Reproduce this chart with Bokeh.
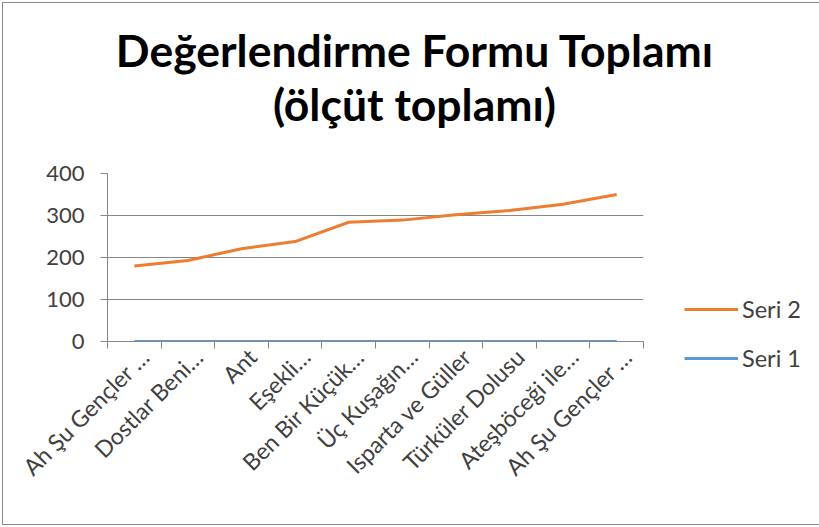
import math
from bokeh.plotting import figure
from bokeh.models import (Range1d, FixedTicker, Legend, LegendItem, Div)
from bokeh.layouts import column
from bokeh.embed import file_html
from bokeh.resources import INLINE

categories = ["Ah Şu Gençler …", "Dostlar Beni…", "Ant", "Eşekli…", "Ben Bir Küçük…",
              "Üç Kuşağın…", "Isparta ve Güller", "Türküler Dolusu", "Ateşböceği ile…",
              "Ah Şu Gençler …"]
seri2 = [180, 193, 221, 238, 284, 289, 302, 312, 327, 350]
seri1 = [0, 0, 0, 0, 0, 0, 0, 0, 0, 0]
y_ticks = [0, 100, 200, 300, 400]
title_lines = ["Değerlendirme Formu Toplamı", "(ölçüt toplamı)"]
series_names = ["Seri 1", "Seri 2"]

ORANGE = "#ED7D31"
BLUE = "#5B9BD5"
GRAY = "#868686"
TXT = "#404040"
FONT = "Lato"
LABEL_SHIFT = 0.2  # rotated labels sit right of the category centre

n = len(categories)
xs = [i + 0.5 for i in range(n)]

title = Div(text="<br>".join(title_lines), width=813, height=130,
            styles={"font-family": FONT, "font-weight": "bold", "font-size": "44.5px",
                    "line-height": "54px", "text-align": "center", "color": "black",
                    "padding-top": "15px", "box-sizing": "border-box",
                    "background": "white"})

p = figure(frame_width=536, frame_height=168, output_backend="svg", toolbar_location=None,
           x_range=Range1d(0, n), y_range=Range1d(0, 400),
           min_border_left=104, min_border_right=173,
           min_border_top=30, min_border_bottom=183)
p.outline_line_color = None
p.background_fill_color = "white"
p.border_fill_color = "white"
p.title.visible = False

r1 = p.line(xs, seri1, line_color=BLUE, line_width=3)
r2 = p.line(xs, seri2, line_color=ORANGE, line_width=3, line_join="round")

# y axis
ya = p.yaxis[0]
ya.ticker = FixedTicker(ticks=y_ticks)
ya.axis_line_color = GRAY
ya.major_tick_line_color = GRAY
ya.major_tick_out = 7
ya.major_tick_in = 0
ya.minor_tick_line_color = None
ya.major_label_text_font = FONT
ya.major_label_text_font_size = "22px"
ya.major_label_text_color = TXT
ya.major_label_standoff = 16
p.ygrid.grid_line_color = GRAY
p.ygrid.ticker = FixedTicker(ticks=y_ticks)
p.xgrid.grid_line_color = None

# x axis
label_pos = [x + LABEL_SHIFT for x in xs]
xa = p.xaxis[0]
xa.ticker = FixedTicker(ticks=label_pos, minor_ticks=list(range(n + 1)))
xa.major_label_overrides = {x: c for x, c in zip(label_pos, categories)}
xa.axis_line_color = GRAY
xa.major_tick_line_color = None
xa.major_tick_out = 0
xa.minor_tick_line_color = GRAY
xa.minor_tick_out = 7
xa.minor_tick_in = 0
xa.major_label_orientation = math.pi / 4
xa.major_label_text_font = FONT
xa.major_label_text_font_size = "23px"
xa.major_label_text_color = TXT
xa.major_label_standoff = 4

legend = Legend(items=[LegendItem(label=series_names[1], renderers=[r2]),
                       LegendItem(label=series_names[0], renderers=[r1])],
                location=(41, -32), orientation="vertical")
legend.padding = 0
legend.margin = 0
legend.border_line_color = None
legend.background_fill_alpha = 0
legend.glyph_width = 54
legend.glyph_height = 30
legend.label_height = 30
legend.spacing = 19
legend.label_standoff = 4
legend.label_text_font = FONT
legend.label_text_font_size = "23.5px"
legend.label_text_color = TXT
p.add_layout(legend, "right")

layout = column(title, p, spacing=0)
layout.styles = {"margin-left": "3px", "margin-top": "3px",
                 "outline": "1px solid #8a8a8a", "background": "white"}

open("out.html", "w").write(file_html(layout, INLINE))
